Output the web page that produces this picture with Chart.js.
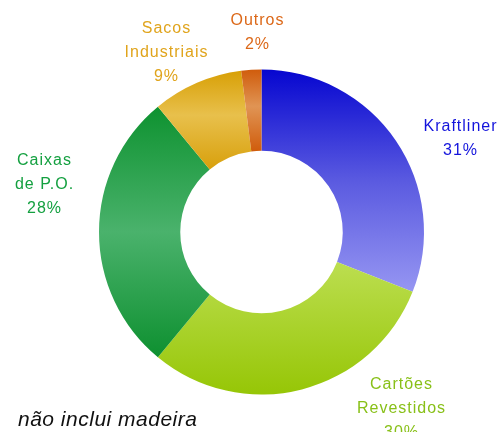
<!DOCTYPE html>
<html lang="pt">
<head>
  <meta charset="UTF-8">
  <title>Consumo por segmento</title>
  <style>
    html, body { margin: 0; padding: 0; background: #fff; }
    .chart-box { position: relative; width: 504px; height: 432px; }
  </style>
</head>
<body>
  <div class="chart-box">
    <canvas id="donut"></canvas>
  </div>

  <script src="https://cdn.jsdelivr.net/npm/chart.js@4.4.1/dist/chart.umd.min.js"></script>
  <script>
    // data
    const CATEGORIES = [['Kraftliner'], ['Cartões', 'Revestidos'], ['Caixas', 'de P.O.'], ['Sacos', 'Industriais'], ['Outros']];
    const SHARES = [31, 30, 28, 9, 2];
    const NOTE = 'não inclui madeira';

    // styles
    const TEXT_COLORS = ['#1414dc', '#88c018', '#14a040', '#e0a41c', '#dc6818'];
    const GRADIENT_STOPS = [
      [[0, '#0606d0'], [0.5, '#5a5ae0'], [1, '#9696f2']],
      [[0, '#bcde50'], [1, '#96c606']],
      [[0, '#0e9230'], [0.5, '#4ab26c'], [1, '#0e9030']],
      [[0, '#d8a006'], [0.45, '#e8c04c'], [1, '#d8a00c']],
      [[0, '#d05c0c'], [0.45, '#e09454'], [1, '#d05c0c']]
    ];
    // label anchor, relative to the donut centre (first baseline, centred text)
    const LABEL_OFFSETS = [[199, -101], [140, 157], [-217, -67], [-95, -199], [-4, -207]];

    function sliceYRange(i, cx, cy, outer, inner) {
      const total = SHARES.reduce((a, b) => a + b, 0);
      let start = -Math.PI / 2;
      for (let k = 0; k < i; k++) start += SHARES[k] / total * Math.PI * 2;
      const end = start + SHARES[i] / total * Math.PI * 2;
      let minY = Infinity, maxY = -Infinity;
      for (let s = 0; s <= 60; s++) {
        const a = start + (end - start) * s / 60;
        for (const r of [outer, inner]) {
          const y = cy + Math.sin(a) * r;
          minY = Math.min(minY, y);
          maxY = Math.max(maxY, y);
        }
      }
      return [minY, maxY];
    }

    function sliceFill(context) {
      const i = context.dataIndex;
      const chart = context.chart;
      const area = chart.chartArea;
      if (!area) return GRADIENT_STOPS[i][0][1];
      const cx = (area.left + area.right) / 2;
      const cy = (area.top + area.bottom) / 2;
      const outer = Math.min(area.right - area.left, area.bottom - area.top) / 2;
      const [y0, y1] = sliceYRange(i, cx, cy, outer, outer * 0.5);
      const g = chart.ctx.createLinearGradient(0, y0, 0, y1);
      for (const [p, c] of GRADIENT_STOPS[i]) g.addColorStop(p, c);
      return g;
    }

    const labelPlugin = {
      id: 'sliceLabels',
      afterDraw(chart) {
        const ctx = chart.ctx;
        const area = chart.chartArea;
        const cx = (area.left + area.right) / 2;
        const cy = (area.top + area.bottom) / 2;
        ctx.save();
        ctx.textAlign = 'center';
        ctx.textBaseline = 'alphabetic';
        ctx.font = '16px "Liberation Sans", Arial, sans-serif';
        ctx.letterSpacing = '1px';
        CATEGORIES.forEach((lines, i) => {
          const [ox, oy] = LABEL_OFFSETS[i];
          ctx.fillStyle = TEXT_COLORS[i];
          const all = lines.concat([SHARES[i] + '%']);
          all.forEach((t, j) => ctx.fillText(t, cx + ox, cy + oy + j * 24));
        });
        ctx.textAlign = 'left';
        ctx.fillStyle = '#111';
        ctx.font = 'italic 21px "Liberation Sans", Arial, sans-serif';
        ctx.letterSpacing = '0.5px';
        ctx.fillText(NOTE, 18, 426);
        ctx.restore();
      }
    };

    new Chart(document.getElementById('donut'), {
      type: 'doughnut',
      data: {
        labels: CATEGORIES.map(l => l.join(' ')),
        datasets: [{
          data: SHARES,
          backgroundColor: sliceFill,
          borderWidth: 0
        }]
      },
      plugins: [labelPlugin],
      options: {
        responsive: true,
        maintainAspectRatio: false,
        animation: false,
        cutout: '50%',
        layout: { padding: { left: 99, right: 80, top: 69, bottom: 37 } },
        plugins: {
          legend: { display: false },
          tooltip: { enabled: false }
        }
      }
    });
  </script>
</body>
</html>
